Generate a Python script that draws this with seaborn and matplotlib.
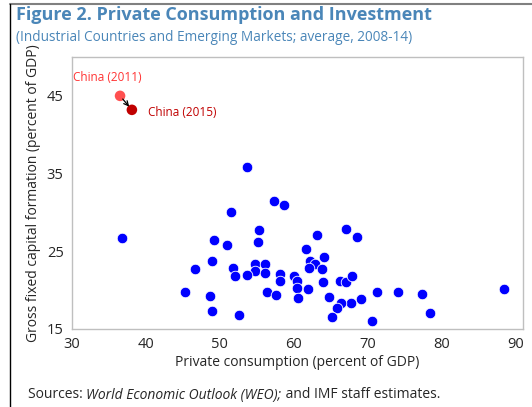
import matplotlib
matplotlib.use('Agg')
import matplotlib.pyplot as plt
from matplotlib.lines import Line2D
import pandas as pd
import seaborn as sns

# data
consumption = [53.7, 57.3, 58.7, 51.5, 36.8, 55.3, 49.2, 55.1, 51.0, 48.9,
               46.6, 51.8, 54.7, 56.1, 54.8, 53.7, 52.0, 56.1, 58.2, 58.1,
               60.0, 60.4, 60.4, 60.6, 45.3, 48.6, 56.4, 57.6, 48.9, 52.6,
               67.1, 68.5, 63.2, 61.7, 64.1, 62.2, 62.8, 62.1, 63.8, 61.9,
               63.9, 66.2, 67.1, 67.9, 64.7, 71.3, 74.1, 77.4, 88.4, 69.1,
               67.7, 66.4, 65.8, 65.1, 70.6, 78.4]
investment = [35.9, 31.5, 30.9, 30.1, 26.7, 27.7, 26.5, 26.2, 25.8, 23.7,
              22.7, 22.9, 23.3, 23.4, 22.4, 22.0, 21.8, 22.2, 22.1, 21.2,
              21.8, 21.2, 20.3, 19.0, 19.8, 19.2, 19.8, 19.4, 17.3, 16.8,
              27.9, 26.8, 27.1, 25.3, 24.3, 23.8, 23.4, 22.8, 22.7, 20.2,
              21.0, 21.2, 21.0, 21.8, 19.1, 19.7, 19.7, 19.5, 20.2, 18.9,
              18.4, 18.3, 17.7, 16.6, 16.0, 17.1]

china_labels = ['China (2011)', 'China (2015)']
china_consumption = [36.5, 38.1]
china_investment = [45.0, 43.2]
china_colors = ['#FF5050', '#C00000']

x_ticks = [30, 40, 50, 60, 70, 80, 90]
y_ticks = [15, 25, 35, 45]

df = pd.DataFrame({'consumption': consumption, 'investment': investment})
china = pd.DataFrame({'country': china_labels, 'consumption': china_consumption,
                      'investment': china_investment})

sns.set_style('white')
plt.rcParams['font.family'] = ['Open Sans', 'DejaVu Sans']

W, H = 532, 407
fig = plt.figure(figsize=(W / 100, H / 100), dpi=100)
ax = fig.add_axes([72 / W, 1 - 329 / H, (523 - 72) / W, (329 - 57) / H])

sns.scatterplot(data=df, x='consumption', y='investment', ax=ax, color='#0000FF',
                s=58, edgecolor='white', linewidth=0.6, zorder=3)
sns.scatterplot(data=china, x='consumption', y='investment', hue='country',
                palette=china_colors, ax=ax, s=58, edgecolor='none',
                legend=False, zorder=4)

# arrow from 2011 to 2015
ax.annotate('', xy=(china_consumption[1], china_investment[1]),
            xytext=(china_consumption[0], china_investment[0]),
            arrowprops=dict(arrowstyle='->', color='black', lw=0.9,
                            shrinkA=3, shrinkB=3, mutation_scale=8), zorder=5)
ax.text(30.1, 47.4, china_labels[0], color='#FF3333', fontsize=8.5, va='center', ha='left')
ax.text(40.3, 42.9, china_labels[1], color='#C00000', fontsize=8.5, va='center', ha='left')

ax.set_xlim(30, 91)
ax.set_ylim(15, 50)
ax.set_xticks(x_ticks)
ax.set_yticks(y_ticks)
ax.tick_params(length=0, labelsize=10.5, pad=6)
for s in ax.spines.values():
    s.set_color('#BFBFBF')
    s.set_linewidth(1.0)
ax.set_xlabel('Private consumption (percent of GDP)', fontsize=10, labelpad=2)
ax.set_ylabel('Gross fixed capital formation (percent of GDP)', fontsize=10, labelpad=4)

# title block
blue = '#4A86B8'
fig.text(16 / W, 1 - 6 / H, 'Figure 2. Private Consumption and Investment',
         color=blue, fontsize=13, fontweight='bold', va='top', ha='left')
fig.text(16 / W, 1 - 30 / H, '(Industrial Countries and Emerging Markets; average, 2008-14)',
         color=blue, fontsize=9.8, va='top', ha='left')

# sources line with italic part
renderer = fig.canvas.get_renderer()
x0 = 28 / W
y0 = 1 - 395 / H
parts = [('Sources: ', 'normal'), ('World Economic Outlook (WEO);', 'italic'),
         (' and IMF staff estimates.', 'normal')]
for txt, style in parts:
    t = fig.text(x0, y0, txt, fontsize=10, style=style, va='center', ha='left')
    bb = t.get_window_extent(renderer=renderer)
    x0 += bb.width / W

# outer frame
fig.add_artist(Line2D([10 / W, 1], [1 - 4 / H, 1 - 4 / H], transform=fig.transFigure,
                      color='#808080', lw=1.5))
fig.add_artist(Line2D([10 / W, 10 / W], [0, 1 - 4 / H], transform=fig.transFigure,
                      color='black', lw=1.0))

fig.savefig('out.png', dpi=100)
